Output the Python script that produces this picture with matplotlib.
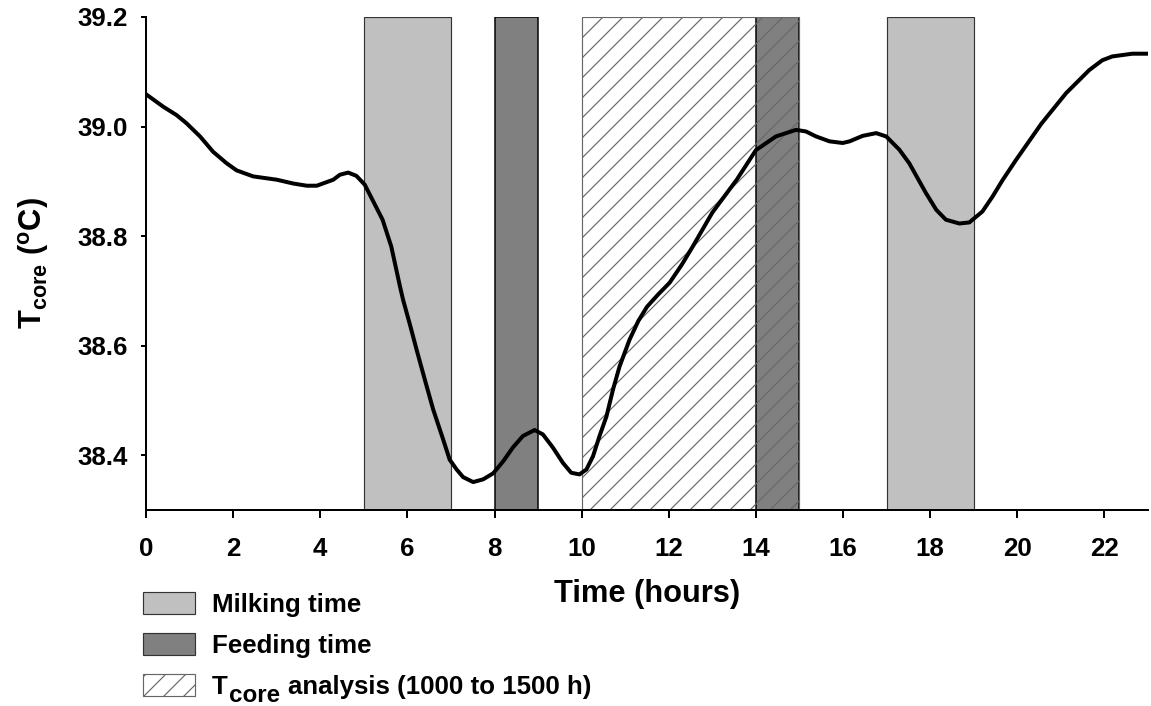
import matplotlib
matplotlib.use("Agg")
import matplotlib.pyplot as plt
import matplotlib.patches as patches
from matplotlib.text import Annotation

plt.rcParams['font.family'] = ['Liberation Sans', 'DejaVu Sans']
plt.rcParams['font.weight'] = 'bold'
plt.rcParams['mathtext.default'] = 'regular'
plt.rcParams['hatch.linewidth'] = 0.7

# core temperature curve
hours = [0.0, 0.4, 0.7, 0.93, 1.24, 1.54, 1.85, 2.08, 2.46, 3.0, 3.38, 3.69, 3.92,
         4.3, 4.45, 4.64, 4.83, 5.02, 5.2, 5.43, 5.63, 5.83, 5.9, 6.06, 6.21, 6.4,
         6.59, 6.82, 6.97, 7.13, 7.28, 7.51, 7.74, 7.97, 8.2, 8.42, 8.65, 8.92, 9.11,
         9.34, 9.57, 9.76, 9.95, 10.11, 10.26, 10.41, 10.57, 10.72, 10.87, 11.1, 11.3,
         11.5, 11.75, 12.02, 12.3, 12.55, 13.0, 13.56, 14.0, 14.46, 14.92, 15.15,
         15.38, 15.69, 15.99, 16.15, 16.45, 16.76, 16.99, 17.29, 17.52, 17.9, 18.14,
         18.36, 18.67, 18.9, 19.2, 19.43, 19.66, 19.97, 20.55, 21.12, 21.65, 21.95,
         22.18, 22.64, 23.0]
tcore = [39.059, 39.036, 39.021, 39.006, 38.982, 38.954, 38.933, 38.92, 38.909, 38.903,
         38.896, 38.892, 38.892, 38.903, 38.912, 38.916, 38.910, 38.894, 38.866, 38.83,
         38.781, 38.708, 38.684, 38.638, 38.593, 38.538, 38.484, 38.429, 38.392, 38.374,
         38.360, 38.351, 38.356, 38.367, 38.389, 38.414, 38.435, 38.446, 38.438, 38.414,
         38.386, 38.368, 38.365, 38.374, 38.398, 38.435, 38.471, 38.52, 38.562, 38.611,
         38.645, 38.671, 38.693, 38.715, 38.748, 38.781, 38.843, 38.903, 38.957, 38.982,
         38.994, 38.991, 38.982, 38.973, 38.970, 38.973, 38.983, 38.988, 38.982, 38.958,
         38.933, 38.879, 38.848, 38.830, 38.823, 38.825, 38.845, 38.872, 38.902, 38.939,
         39.005, 39.061, 39.103, 39.121, 39.128, 39.133, 39.133]

milking = [(5, 7), (17, 19)]
feeding = [(8, 9), (14, 15)]
analysis = (10, 15)

xticks = list(range(0, 24, 2))
yticks = [38.4, 38.6, 38.8, 39.0, 39.2]

fig = plt.figure(figsize=(1151 / 120, 706 / 120), dpi=120)
ax = fig.add_axes([146 / 1151, 1 - 510 / 706, (1148 - 146) / 1151, (510 - 17) / 706])

for start, end in milking:
    ax.axvspan(start, end, facecolor='#c0c0c0', edgecolor='#333333', linewidth=0.7, zorder=1)
for start, end in feeding:
    ax.axvspan(start, end, facecolor='#808080', edgecolor='black', linewidth=0.9, zorder=1)
ax.axvspan(analysis[0], analysis[1], facecolor='none', edgecolor='#666666', hatch='//',
           linewidth=0.7, zorder=2)

ax.plot(hours, tcore, color='black', linewidth=2.4, zorder=3,
        solid_joinstyle='round', solid_capstyle='round')

ax.set_xlim(0, 23)
ax.set_ylim(38.3, 39.2)
ax.set_xticks(xticks)
ax.set_yticks(yticks)
ax.set_yticklabels(['%.1f' % v for v in yticks])
ax.spines['top'].set_visible(False)
ax.spines['right'].set_visible(False)
for s in ['left', 'bottom']:
    ax.spines[s].set_linewidth(1.2)
ax.tick_params(axis='x', direction='out', length=5, width=1.2, pad=11, labelsize=15.5)
ax.tick_params(axis='y', direction='out', length=3, width=1.2, pad=8, labelsize=15.5)
for lab in ax.get_xticklabels() + ax.get_yticklabels():
    lab.set_fontweight('bold')

ax.set_xlabel('Time (hours)', fontsize=18.5, fontweight='bold', labelpad=11)
ax.set_ylabel('T$_{core}$ ($^{o}$C)', fontsize=18.5, fontweight='bold', labelpad=16)

handles = [
    patches.Patch(facecolor='#c0c0c0', edgecolor='#333333', linewidth=0.7, label='Milking time'),
    patches.Patch(facecolor='#808080', edgecolor='#333333', linewidth=0.7, label='Feeding time'),
    patches.Patch(facecolor='white', edgecolor='#666666', hatch='//', linewidth=0.7, label='T'),
]
leg = fig.legend(handles=handles, loc='upper left', bbox_to_anchor=(143 / 1151, 1 - 592 / 706),
                 frameon=False, borderpad=0, borderaxespad=0,
                 handlelength=2.0, handleheight=0.95, handletextpad=0.68, labelspacing=0.62,
                 prop={'weight': 'bold', 'size': 15.5})

# the legend's subscript is almost full size, so build it from linked texts
# (figure-level, drawn after the legend so the anchor text is already placed)
t_text = leg.get_texts()[2]
core = Annotation('core', xy=(1, 0), xycoords=t_text, xytext=(0.5, -5),
                  textcoords='offset points', ha='left', va='bottom',
                  fontsize=14.5, fontweight='bold', zorder=6)
fig.add_artist(core)
rest = Annotation('analysis (1000 to 1500 h)', xy=(1, 0), xycoords=(core, t_text),
                  xytext=(5, 0), textcoords='offset points', ha='left', va='bottom',
                  fontsize=15.5, fontweight='bold', zorder=7)
fig.add_artist(rest)

fig.savefig('out.png', dpi=120)
